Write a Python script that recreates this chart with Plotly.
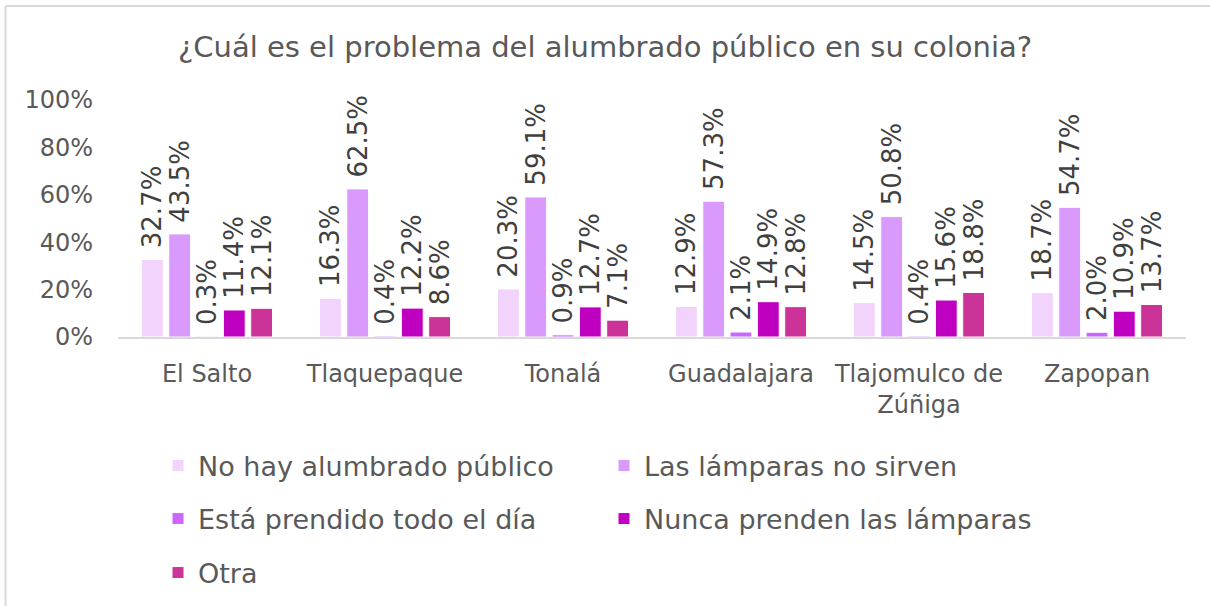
import plotly.graph_objects as go

categories = ["El Salto", "Tlaquepaque", "Tonalá", "Guadalajara", "Tlajomulco de<br>Zúñiga", "Zapopan"]
series_names = ["No hay alumbrado público", "Las lámparas no sirven", "Está prendido todo el día",
                "Nunca prenden las lámparas", "Otra"]
no_hay = [32.7, 16.3, 20.3, 12.9, 14.5, 18.7]
no_sirven = [43.5, 62.5, 59.1, 57.3, 50.8, 54.7]
prendido = [0.3, 0.4, 0.9, 2.1, 0.4, 2.0]
nunca = [11.4, 12.2, 12.7, 14.9, 15.6, 10.9]
otra = [12.1, 8.6, 7.1, 12.8, 18.8, 13.7]
y_ticks = [0, 0.2, 0.4, 0.6, 0.8, 1.0]
y_ticklabels = ["0%", "20%", "40%", "60%", "80%", "100%"]

colors = ["#F2D3FB", "#DA9AFB", "#CC66FF", "#C000C0", "#CC3399"]
values = [no_hay, no_sirven, prendido, nunca, otra]

FONT = "DejaVu Sans"
fig = go.Figure()
legend_ids = ["legend", "legend2", "legend3", "legend4", "legend5"]
for name, vals, col, lid in zip(series_names, values, colors, legend_ids):
    fig.add_trace(go.Bar(
        x=categories, y=[v / 100 for v in vals], name=name,
        marker=dict(color=col, line=dict(color="white", width=1)),
        text=["\u00a0" + f"{v:.1f}%" for v in vals], textposition="outside",
        textangle=-90, cliponaxis=False, constraintext="none",
        textfont=dict(family=FONT, size=26, color="#404040"),
        legend=lid, showlegend=True,
    ))

W, H = 1210, 606
ml, mr, mt, mb = 118, 24, 100, 269
pw, ph = W - ml - mr, H - mt - mb

def px_to_paper_x(px):
    return (px - ml) / pw

def px_to_paper_y(py):
    return (H - mb - py) / ph

leg_pos = [(158, 466), (604, 466), (158, 519), (604, 519), (158, 573)]
legend_layouts = {}
for lid, (lx, ly) in zip(legend_ids, leg_pos):
    legend_layouts[lid] = dict(
        x=px_to_paper_x(lx), y=px_to_paper_y(ly), xanchor="left", yanchor="middle",
        orientation="h", font=dict(family=FONT, size=27, color="#595959"),
        bgcolor="rgba(0,0,0,0)", itemwidth=30, visible=True,
    )

fig.update_layout(
    width=W, height=H, showlegend=True,
    margin=dict(l=ml, r=mr, t=mt, b=mb, autoexpand=False),
    paper_bgcolor="white", plot_bgcolor="white",
    title=dict(text="¿Cuál es el problema del alumbrado público en su colonia?",
               x=0.5, xref="container", xanchor="center", y=1 - 47 / H, yref="container",
               yanchor="middle",
               font=dict(family=FONT, size=29, color="#595959")),
    barmode="group", bargap=0.233, bargroupgap=0.2,
    xaxis=dict(showline=True, linecolor="#D9D9D9", linewidth=2, ticks="",
               tickfont=dict(family=FONT, size=24, color="#595959"), showgrid=False,
               ticklabelstandoff=14),
    yaxis=dict(range=[0, 1], tickvals=y_ticks, ticktext=y_ticklabels, showgrid=False,
               zeroline=False, showline=False, ticks="", ticklabelstandoff=24,
               tickfont=dict(family=FONT, size=24, color="#595959")),
    shapes=[
        dict(type="line", xref="paper", yref="paper", x0=px_to_paper_x(5.5), x1=px_to_paper_x(1215),
             y0=px_to_paper_y(6), y1=px_to_paper_y(6), line=dict(color="#D9D9D9", width=2)),
        dict(type="line", xref="paper", yref="paper", x0=px_to_paper_x(5.5), x1=px_to_paper_x(5.5),
             y0=px_to_paper_y(6), y1=px_to_paper_y(615), line=dict(color="#D9D9D9", width=2)),
    ],
    **legend_layouts,
)

fig.write_html("out.html", config={"displayModeBar": False},
               post_script="document.body.style.margin='0';document.body.style.overflow='hidden';")
